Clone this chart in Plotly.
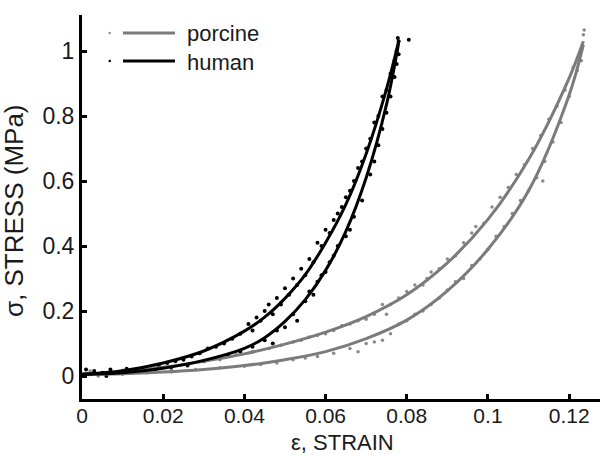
import plotly.graph_objects as go

# ---- fitted curves ----
human_eps = [0, 0.01, 0.02, 0.03, 0.04, 0.045, 0.05, 0.055, 0.06, 0.065, 0.07, 0.075, 0.078]
human_upper = [0.005, 0.016, 0.04, 0.077, 0.138, 0.181, 0.239, 0.312, 0.41, 0.528, 0.684, 0.883, 1.03]
human_lower = [0.005, 0.01, 0.024, 0.048, 0.085, 0.118, 0.168, 0.235, 0.325, 0.445, 0.61, 0.835, 1.025]

porc_eps = [0, 0.01, 0.02, 0.03, 0.04, 0.05, 0.06, 0.07, 0.08, 0.09, 0.1, 0.11, 0.12, 0.1235]
porc_upper = [0.005, 0.012, 0.027, 0.045, 0.068, 0.098, 0.135, 0.183, 0.25, 0.348, 0.482, 0.666, 0.917, 1.03]
porc_lower = [0.005, 0.007, 0.012, 0.02, 0.032, 0.05, 0.075, 0.115, 0.172, 0.262, 0.39, 0.57, 0.865, 1.02]

# ---- measured points ----
human_pts_x = [0.001, 0.003, 0.005, 0.007, 0.009, 0.011, 0.013, 0.015, 0.017, 0.019, 0.021, 0.023,
               0.025, 0.027, 0.029, 0.031, 0.033, 0.035, 0.037, 0.039, 0.041, 0.042, 0.043, 0.044,
               0.045, 0.046, 0.047, 0.048, 0.049, 0.050, 0.051, 0.052, 0.053, 0.054, 0.055, 0.056,
               0.057, 0.058, 0.059, 0.060, 0.061, 0.062, 0.063, 0.064, 0.065, 0.066, 0.067, 0.068,
               0.069, 0.070, 0.071, 0.072, 0.073, 0.074, 0.075, 0.076, 0.077, 0.0775, 0.078, 0.0778,
               0.0805,
               0.002, 0.006, 0.010, 0.014, 0.018, 0.022, 0.026, 0.030, 0.033, 0.036, 0.039, 0.042,
               0.045, 0.047, 0.048, 0.050, 0.052, 0.053, 0.055, 0.056, 0.057, 0.058, 0.059, 0.060,
               0.061, 0.062, 0.063, 0.065, 0.066, 0.067, 0.069, 0.071, 0.072, 0.073, 0.074, 0.075,
               0.076, 0.077, 0.0775, 0.078]
human_pts_y = [0.02, 0.015, 0.01, 0.02, 0.012, 0.022, 0.018, 0.025, 0.02, 0.03, 0.04, 0.045,
               0.05, 0.06, 0.07, 0.085, 0.09, 0.10, 0.115, 0.13, 0.16, 0.14, 0.18, 0.17,
               0.20, 0.22, 0.19, 0.24, 0.22, 0.27, 0.25, 0.30, 0.28, 0.33, 0.31, 0.36,
               0.35, 0.41, 0.40, 0.45, 0.44, 0.48, 0.50, 0.52, 0.55, 0.57, 0.60, 0.64,
               0.66, 0.70, 0.73, 0.78, 0.80, 0.86, 0.88, 0.93, 0.97, 1.00, 1.03, 1.04,
               1.035,
               0.005, 0.0, 0.012, 0.015, 0.02, 0.028, 0.032, 0.045, 0.055, 0.065, 0.075, 0.09,
               0.11, 0.10, 0.14, 0.15, 0.19, 0.17, 0.23, 0.26, 0.25, 0.29, 0.31, 0.32,
               0.35, 0.37, 0.40, 0.43, 0.45, 0.49, 0.54, 0.62, 0.66, 0.71, 0.76, 0.81,
               0.86, 0.92, 0.96, 0.99]

porc_pts_x = [0.002, 0.006, 0.010, 0.014, 0.018, 0.022, 0.026, 0.030, 0.034, 0.038, 0.042, 0.046,
              0.049, 0.052, 0.054, 0.056, 0.058, 0.060, 0.062, 0.064, 0.066, 0.068, 0.070, 0.072,
              0.074, 0.075, 0.076, 0.078, 0.080, 0.082, 0.084, 0.085, 0.086, 0.088, 0.090, 0.092,
              0.094, 0.096, 0.097, 0.099, 0.101, 0.103, 0.105, 0.107, 0.109, 0.111, 0.113, 0.115,
              0.117, 0.119, 0.121, 0.123, 0.1235, 0.1237,
              0.004, 0.010, 0.016, 0.022, 0.028, 0.034, 0.040, 0.044, 0.048, 0.052, 0.055, 0.058,
              0.062, 0.066, 0.068, 0.070, 0.072, 0.074, 0.076, 0.078, 0.080, 0.082, 0.084, 0.086,
              0.088, 0.090, 0.092, 0.094, 0.096, 0.098, 0.100, 0.102, 0.104, 0.106, 0.108, 0.110,
              0.112, 0.1135, 0.114, 0.116, 0.118, 0.120, 0.122, 0.123]
porc_pts_y = [0.015, 0.01, 0.018, 0.012, 0.025, 0.02, 0.035, 0.045, 0.05, 0.065, 0.075, 0.085,
              0.095, 0.105, 0.11, 0.12, 0.125, 0.13, 0.14, 0.155, 0.16, 0.17, 0.175, 0.19,
              0.22, 0.19, 0.22, 0.24, 0.26, 0.28, 0.28, 0.30, 0.32, 0.33, 0.36, 0.37,
              0.41, 0.44, 0.46, 0.47, 0.52, 0.55, 0.58, 0.62, 0.65, 0.70, 0.74, 0.79,
              0.83, 0.88, 0.95, 1.00, 1.05, 1.065,
              0.0, 0.005, 0.01, 0.012, 0.02, 0.025, 0.03, 0.035, 0.04, 0.05, 0.055, 0.06,
              0.07, 0.085, 0.075, 0.1, 0.105, 0.11, 0.13, 0.16, 0.17, 0.19, 0.20, 0.22,
              0.24, 0.265, 0.29, 0.30, 0.34, 0.36, 0.39, 0.43, 0.46, 0.50, 0.54, 0.57,
              0.61, 0.60, 0.66, 0.72, 0.78, 0.86, 0.94, 0.97]

x_ticks = [0, 0.02, 0.04, 0.06, 0.08, 0.1, 0.12]
x_tick_labels = ["0", "0.02", "0.04", "0.06", "0.08", "0.1", "0.12"]
y_ticks = [0, 0.2, 0.4, 0.6, 0.8, 1.0]
y_tick_labels = ["0", "0.2", "0.4", "0.6", "0.8", "1"]

legend_names = ["porcine", "human"]
x_title = "ε, STRAIN"
y_title = "σ, STRESS (MPa)"

GREY_LINE = "#7b7b7b"
GREY_DOT = "#8a8a8a"
BLACK = "#000000"
TEXT = "#1a1a1a"
FONT = "Liberation Sans, Arial, sans-serif"

fig = go.Figure()

fig.add_trace(go.Scatter(x=porc_pts_x, y=porc_pts_y, mode="markers",
                         marker=dict(color=GREY_DOT, size=3.5), showlegend=False))
fig.add_trace(go.Scatter(x=human_pts_x, y=human_pts_y, mode="markers",
                         marker=dict(color=BLACK, size=4), showlegend=False))

for ys in (porc_upper, porc_lower):
    fig.add_trace(go.Scatter(x=porc_eps, y=ys, mode="lines", line_shape="spline",
                             line=dict(color=GREY_LINE, width=3), showlegend=False))
for ys in (human_upper, human_lower):
    fig.add_trace(go.Scatter(x=human_eps, y=ys, mode="lines", line_shape="spline",
                             line=dict(color=BLACK, width=3), showlegend=False))

# pixel helpers for paper-positioned decorations
L, R, T, B = 82, 3, 15, 57
W, H = 603 - L - R, 456 - T - B
def px(xp):
    return (xp - L) / W
def py(yp):
    return (456 - B - yp) / H

# manual legend (MATLAB style: dot, line, label)
for name, color, dotc, ypix in ((legend_names[0], GREY_LINE, GREY_DOT, 33),
                                (legend_names[1], BLACK, BLACK, 61)):
    fig.add_shape(type="line", xref="paper", yref="paper",
                  x0=px(123), x1=px(175), y0=py(ypix), y1=py(ypix),
                  line=dict(color=color, width=3))
    fig.add_shape(type="circle", xref="paper", yref="paper",
                  x0=px(108.5), x1=px(111), y0=py(ypix + 1.2), y1=py(ypix - 1.2),
                  line=dict(width=0), fillcolor=dotc)
    fig.add_annotation(xref="paper", yref="paper", x=px(185), y=py(ypix + 1),
                       text=name, showarrow=False, xanchor="left", yanchor="middle",
                       font=dict(family=FONT, size=22, color=TEXT))

# axis titles
fig.add_annotation(xref="paper", yref="paper", x=px(342), y=py(456), borderpad=0,
                   text=x_title, showarrow=False, xanchor="center", yanchor="bottom",
                   font=dict(family=FONT, size=22, color=TEXT))
fig.add_annotation(xref="paper", yref="paper", x=px(14), y=py(211),
                   text=y_title, showarrow=False, xanchor="center", yanchor="middle",
                   textangle=-90, font=dict(family=FONT, size=26, color=TEXT))

fig.update_layout(
    width=603, height=456,
    margin=dict(l=L, r=R, t=T, b=B),
    paper_bgcolor="white", plot_bgcolor="white",
    font=dict(family=FONT, size=22, color=TEXT),
    showlegend=False,
)
fig.update_xaxes(range=[0, 0.1276], tickvals=x_ticks, ticktext=x_tick_labels,
                 showgrid=False, zeroline=False, showline=True, linecolor=BLACK, linewidth=3,
                 ticks="inside", ticklen=5, tickwidth=3, tickcolor=BLACK,
                 ticklabelstandoff=-4, tickfont=dict(size=21))
fig.update_yaxes(range=[-0.0708, 1.111], tickvals=y_ticks, ticktext=y_tick_labels,
                 showgrid=False, zeroline=False, showline=True, linecolor=BLACK, linewidth=3,
                 ticks="inside", ticklen=5, tickwidth=3, tickcolor=BLACK,
                 tickfont=dict(size=23))

fig.write_html("out.html")
